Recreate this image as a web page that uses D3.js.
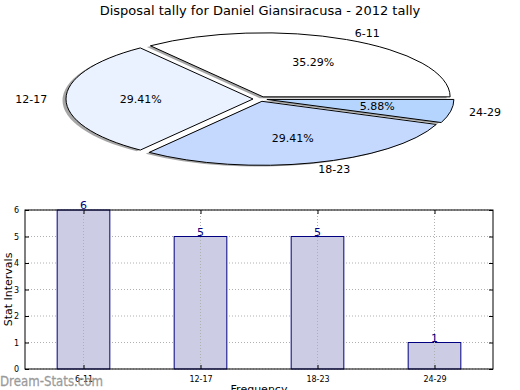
<!DOCTYPE html>
<html><head><meta charset="utf-8">
<script src="https://cdn.jsdelivr.net/npm/d3@7"></script>
<style>
body{margin:0;background:#fff;}
text{font-family:"DejaVu Sans",sans-serif;}
</style></head>
<body><svg id="c" width="520" height="390"></svg>
<script>
const title = "Disposal tally for Daniel Giansiracusa - 2012 tally";
const categories = ["6-11","12-17","18-23","24-29"];
const values = [6,5,5,1];
const pieColors = ["#ffffff","#ebf2ff","#c5d9ff","#b5d5ff"];
const yTicks = [0,1,2,3,4,5,6];
const yLabel = "Stat Intervals";
const xLabel = "Frequency";
const watermark = "Dream-Stats.com";

const svg = d3.select("#c");
svg.append("rect").attr("width",520).attr("height",390).attr("fill","#fff");

svg.append("text").attr("x",260).attr("y",15).attr("text-anchor","middle")
  .attr("font-size",13).attr("fill","#000").text(title);

// ---- Pie (elliptical, exploded, with shadow) ----
const cx = 260, cy = 99, rx = 187, ry = 64, k = ry/rx, explode = 7;
const total = d3.sum(values);
const pie = d3.pie().sort(null).startAngle(Math.PI/2).endAngle(Math.PI/2 - 2*Math.PI);
const arcs = pie(values);
const arc = d3.arc().innerRadius(0).outerRadius(rx);
const pt = (a, r) => [r*Math.sin(a), -r*Math.cos(a)*k];

const pg = svg.append("g");
arcs.forEach((d,i)=>{
  const m = (d.startAngle+d.endAngle)/2;
  const [ox,oy] = pt(m, explode);
  pg.append("path").attr("d", arc(d))
    .attr("transform",`translate(${cx+ox-3.5},${cy+oy+1.3}) scale(1,${k})`)
    .attr("fill","#000").attr("fill-opacity",0.35);
});
arcs.forEach((d,i)=>{
  const m = (d.startAngle+d.endAngle)/2;
  const [ox,oy] = pt(m, explode);
  pg.append("path").attr("d", arc(d))
    .attr("transform",`translate(${cx+ox},${cy+oy}) scale(1,${k})`)
    .attr("fill",pieColors[i]).attr("stroke","#000").attr("stroke-width",1)
    .attr("vector-effect","non-scaling-stroke");
});
arcs.forEach((d,i)=>{
  const m = (d.startAngle+d.endAngle)/2;
  const [ox,oy] = pt(m, explode);
  const [lx,ly] = pt(m, rx*1.1);
  pg.append("text").attr("x",cx+ox+lx).attr("y",cy+oy+ly)
    .attr("text-anchor", lx>0 ? "start":"end").attr("dominant-baseline","central")
    .attr("font-size",11).text(categories[i]);
  const [px,py] = pt(m, rx*0.6);
  pg.append("text").attr("x",cx+ox+px).attr("y",cy+oy+py)
    .attr("text-anchor","middle").attr("dominant-baseline","central")
    .attr("font-size",11).text((values[i]/total*100).toFixed(2)+"%");
});

// ---- Bar chart ----
const L=25, R=493, T=210, B=369;
const x = d3.scaleLinear().domain([-0.5, categories.length-0.5]).range([L,R]);
const y = d3.scaleLinear().domain([0,6]).range([B,T]);
const bw = (x(1)-x(0))*0.45;
const bg = svg.append("g");

bg.selectAll(".gy").data(yTicks).enter().append("line")
  .attr("x1",L).attr("x2",R).attr("y1",d=>y(d)).attr("y2",d=>y(d))
  .attr("stroke","#b0b0b0").attr("stroke-dasharray","1,2");
bg.selectAll(".bar").data(values).enter().append("rect")
  .attr("x",(d,i)=>x(i)-bw/2).attr("y",d=>y(d)).attr("width",bw).attr("height",d=>B-y(d))
  .attr("fill","#ccccE5").attr("stroke","#000080").attr("stroke-width",1);
bg.selectAll(".gx").data(categories).enter().append("line")
  .attr("x1",(d,i)=>x(i)).attr("x2",(d,i)=>x(i)).attr("y1",T).attr("y2",B)
  .attr("stroke","#b0b0b0").attr("stroke-dasharray","1,2");
bg.selectAll(".vl").data(values).enter().append("text")
  .attr("x",(d,i)=>x(i)).attr("y",d=>y(d)-1).attr("text-anchor","middle")
  .attr("font-size",11).attr("fill","#000080").text(d=>d);

const yAxis = d3.axisLeft(y).tickValues(yTicks).tickFormat(d3.format("d")).tickSize(-4).tickPadding(6);
const ya = bg.append("g").attr("transform",`translate(${L},0)`).call(yAxis);
ya.select(".domain").remove();
ya.selectAll("text").attr("font-size",8).attr("font-family","DejaVu Sans");
const yaR = bg.append("g").attr("transform",`translate(${R},0)`).call(d3.axisRight(y).tickValues(yTicks).tickSize(-4).tickFormat(""));
yaR.select(".domain").remove();
const xAxis = d3.axisBottom(x).tickValues(d3.range(categories.length)).tickFormat(i=>categories[i]).tickSize(-4).tickPadding(7);
const xa = bg.append("g").attr("transform",`translate(0,${B})`).call(xAxis);
xa.select(".domain").remove();
xa.selectAll("text").attr("font-size",8).attr("font-family","DejaVu Sans");
const xaT = bg.append("g").attr("transform",`translate(0,${T})`).call(d3.axisTop(x).tickValues(d3.range(categories.length)).tickSize(-4).tickFormat(""));
xaT.select(".domain").remove();
bg.selectAll(".tick line").attr("stroke","#000");

bg.append("rect").attr("x",L).attr("y",T).attr("width",R-L).attr("height",B-T)
  .attr("fill","none").attr("stroke","#000").attr("stroke-width",1);

svg.append("text").attr("transform",`translate(12,${(T+B)/2}) rotate(-90)`)
  .attr("text-anchor","middle").attr("font-size",11).text(yLabel);
svg.append("text").attr("x",(L+R)/2).attr("y",393).attr("text-anchor","middle")
  .attr("font-size",11).text(xLabel);

svg.append("text").attr("x",0).attr("y",386).attr("font-size",13.5)
  .attr("fill","#888").attr("fill-opacity",0.85).attr("stroke","#999").attr("stroke-width",0.3)
  .attr("textLength",103).attr("lengthAdjust","spacingAndGlyphs").text(watermark);
</script></body></html>
